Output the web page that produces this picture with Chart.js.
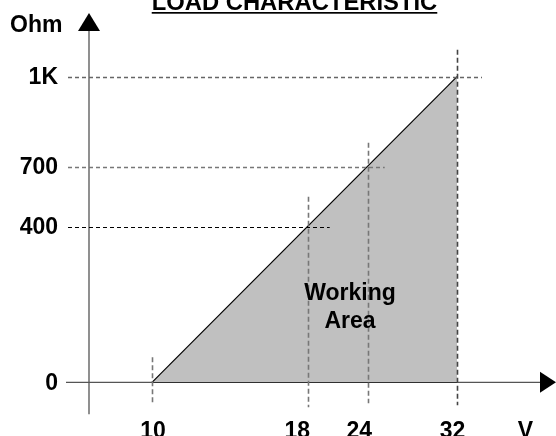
<!DOCTYPE html>
<html><head><meta charset="utf-8">
<script src="https://cdn.jsdelivr.net/npm/chart.js@4.4.1/dist/chart.umd.min.js"></script>
<style>html,body{margin:0;padding:0;background:#fff}canvas{display:block}</style>
</head><body>
<canvas id="c" width="556" height="436"></canvas>
<script>
// ---- data ----
const chartTitle = 'LOAD CHARACTERISTIC';
const xAxisName = 'V';
const yAxisName = 'Ohm';
const voltageTicks = [10, 18, 24, 32];
const voltageLabels = ['10', '18', '24', '32'];
const resistanceTicks = [0, 400, 700, 1000];
const resistanceLabels = ['0', '400', '700', '1K'];
const boundaryVoltage = [10, 32];
const boundaryResistance = [0, 1000];
const areaLabel = ['Working', 'Area'];

// ---- schematic (not-to-scale) axis: value -> pixel offset stops ----
class PiecewiseScale extends Chart.LinearScale {
  _off(v) {
    const sv = this.options.stopValues, so = this.options.stopOffsets;
    let i = 0;
    while (i < sv.length - 2 && v > sv[i + 1]) i++;
    return so[i] + (v - sv[i]) * (so[i + 1] - so[i]) / (sv[i + 1] - sv[i]);
  }
  getPixelForValue(v) {
    return (this.isHorizontal() ? this.left : this.top) + this._off(v);
  }
  getValueForPixel(p) {
    const sv = this.options.stopValues, so = this.options.stopOffsets;
    const off = p - (this.isHorizontal() ? this.left : this.top);
    const asc = so[so.length - 1] > so[0];
    let i = 0;
    while (i < so.length - 2 && (asc ? off > so[i + 1] : off < so[i + 1])) i++;
    return sv[i] + (off - so[i]) * (sv[i + 1] - sv[i]) / (so[i + 1] - so[i]);
  }
}
PiecewiseScale.id = 'piecewise';
PiecewiseScale.defaults = {};
Chart.register(PiecewiseScale);

const FONT = 'bold 23px "Liberation Sans", Arial, Helvetica, sans-serif';

const diagramPlugin = {
  id: 'diagram',
  beforeDatasetsDraw(chart) {
    const {ctx, chartArea} = chart;
    const xs = chart.scales.x, ys = chart.scales.y;
    const ax = xs.getPixelForValue(0), ay = ys.getPixelForValue(resistanceTicks[0]);
    ctx.save();
    ctx.strokeStyle = '#555';
    ctx.lineWidth = 1.3;
    ctx.beginPath();
    ctx.moveTo(ax - 23, ay); ctx.lineTo(chartArea.right - 10, ay);
    ctx.moveTo(ax, ay + 32); ctx.lineTo(ax, 28);
    ctx.stroke();
    ctx.fillStyle = '#000';
    ctx.beginPath();
    ctx.moveTo(chartArea.right, ay);
    ctx.lineTo(chartArea.right - 16, ay - 10.5);
    ctx.lineTo(chartArea.right - 16, ay + 10.5);
    ctx.closePath(); ctx.fill();
    ctx.beginPath();
    ctx.moveTo(ax, 13);
    ctx.lineTo(ax - 11, 31);
    ctx.lineTo(ax + 11, 31);
    ctx.closePath(); ctx.fill();
    ctx.restore();
  },
  afterDatasetsDraw(chart) {
    const {ctx} = chart;
    const xs = chart.scales.x, ys = chart.scales.y;
    const ax = xs.getPixelForValue(0), ay = ys.getPixelForValue(resistanceTicks[0]);
    ctx.save();
    // horizontal guides
    const hOver = [0, 22, 17, 25];
    const hColor = ['#000', '#000', '#777', '#666'];
    const hWidth = [1, 1.1, 1.4, 1.3];
    for (let i = 1; i < resistanceTicks.length; i++) {
      const py = Math.round(ys.getPixelForValue(resistanceTicks[i])) + 0.5;
      const px = xs.getPixelForValue(voltageTicks[i]);
      ctx.strokeStyle = hColor[i]; ctx.lineWidth = hWidth[i];
      ctx.setLineDash([4, 3]);
      ctx.beginPath(); ctx.moveTo(ax - 21, py); ctx.lineTo(px + hOver[i], py); ctx.stroke();
    }
    // vertical guides
    const vAbove = [25, 30, 24, 27];
    const vBelow = [20, 25, 21, 23];
    const vColor = ['#777', '#777', '#777', '#444'];
    for (let i = 0; i < voltageTicks.length; i++) {
      const px = Math.round(xs.getPixelForValue(voltageTicks[i])) + 0.5;
      const py = ys.getPixelForValue(resistanceTicks[i]);
      ctx.strokeStyle = vColor[i]; ctx.lineWidth = 1.6;
      ctx.setLineDash([5, 3]);
      ctx.beginPath(); ctx.moveTo(px, py - vAbove[i]); ctx.lineTo(px, ay + vBelow[i]); ctx.stroke();
    }
    ctx.setLineDash([]);
    // texts
    ctx.fillStyle = '#000';
    ctx.font = FONT;
    ctx.textBaseline = 'alphabetic';
    ctx.textAlign = 'right';
    resistanceTicks.forEach((v, i) => {
      ctx.fillText(resistanceLabels[i], ax - 31, ys.getPixelForValue(v) + 7.5);
    });
    ctx.textAlign = 'center';
    const xShift = [1, -10.5, -8.5, -4.5];
    voltageTicks.forEach((v, i) => {
      ctx.fillText(voltageLabels[i], xs.getPixelForValue(v) + xShift[i], 437.5);
    });
    ctx.fillText(xAxisName, 525.5, 437.5);
    ctx.textAlign = 'left';
    ctx.fillText(yAxisName, 10, 32);
    // area label
    ctx.textAlign = 'center';
    ctx.fillText(areaLabel[0], 350, 300);
    ctx.fillText(areaLabel[1], 350, 328);
    // title (underlined)
    ctx.font = 'bold 23.8px "Liberation Sans", Arial, Helvetica, sans-serif';
    const tx = 294.5, tw = ctx.measureText(chartTitle).width;
    ctx.fillText(chartTitle, tx, 10);
    ctx.fillRect(tx - tw / 2, 12, tw, 1.7);
    ctx.restore();
  }
};

new Chart(document.getElementById('c'), {
  type: 'line',
  data: {
    datasets: [
      {
        data: boundaryVoltage.map((v, i) => ({x: v, y: boundaryResistance[i]})),
        borderColor: '#000', borderWidth: 1.2,
        backgroundColor: '#c0c0c0', fill: 'origin',
        pointRadius: 0, tension: 0
      },
      {
        data: boundaryVoltage.map(v => ({x: v, y: resistanceTicks[0]})),
        borderColor: '#000', borderWidth: 1.6,
        fill: false, pointRadius: 0
      }
    ]
  },
  options: {
    responsive: false,
    animation: false,
    events: [],
    layout: {padding: 0},
    plugins: {legend: {display: false}, title: {display: false}, tooltip: {enabled: false}},
    scales: {
      x: {type: 'piecewise', display: false, min: -4, max: 42,
          stopValues: [0, 10, 18, 24, 32], stopOffsets: [89, 152, 307.7, 367.7, 457]},
      y: {type: 'piecewise', display: false, min: -150, max: 1200,
          stopValues: [0, 400, 700, 1000], stopOffsets: [382.3, 226.7, 166.7, 76.7]}
    }
  },
  plugins: [diagramPlugin]
});
</script>
</body></html>
